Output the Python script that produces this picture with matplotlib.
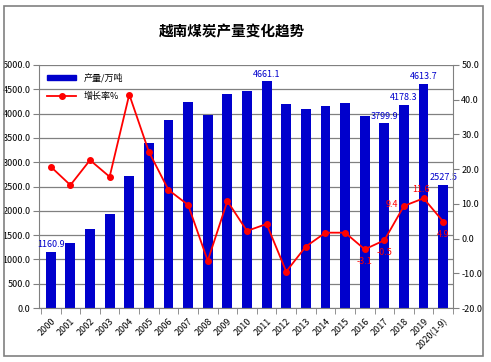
import numpy as np
import matplotlib
matplotlib.use("Agg")
import matplotlib.pyplot as plt
from matplotlib.lines import Line2D
from matplotlib.patches import Rectangle

plt.rcParams['font.family'] = ['Noto Sans CJK SC', 'DejaVu Sans']

years = ["2000", "2001", "2002", "2003", "2004", "2005", "2006", "2007", "2008",
         "2009", "2010", "2011", "2012", "2013", "2014", "2015", "2016", "2017",
         "2018", "2019", "2020(1-9)"]
output = [1160.9, 1340, 1625, 1930, 2720, 3400, 3870, 4240, 3970, 4400, 4460,
          4661.1, 4200, 4095, 4156, 4218, 3955, 3799.9, 4178.3, 4613.7, 2527.5]
growth = [20.7, 15.4, 22.6, 17.8, 41.5, 25.0, 14.0, 9.7, -6.4, 10.8, 2.2, 4.2,
          -9.5, -2.3, 1.7, 1.7, -3.1, -0.5, 9.4, 11.6, 4.9]

bar_labels = {0: "1160.9", 11: "4661.1", 17: "3799.9", 18: "4178.3", 19: "4613.7", 20: "2527.5"}
line_labels = {16: ("-3.1", 0, -9, "center"), 17: ("-0.5", 0, -9, "center"),
               18: ("9.4", -4, 1, "right"), 19: ("11.6", -2, 6, "center"),
               20: ("4.9", 0, -9, "center")}

BLUE = "#0000CC"
RED = "#FF0000"

fig = plt.figure(figsize=(4.91, 3.62), dpi=100)
fig.patches.append(Rectangle((4 / 491, 1 - 356 / 362), 479 / 491, 350 / 362,
                             transform=fig.transFigure, fill=False,
                             edgecolor="#808080", linewidth=1.2))

ax = fig.add_axes([39 / 491, 1 - 308 / 362, 414 / 491, 243 / 362])
x = np.arange(len(years))
ax.bar(x, output, width=0.5, color=BLUE, zorder=2)
ax.set_xlim(-0.6, 20.4)
ax.set_ylim(0, 5000)
ax.set_yticks(np.arange(0, 5001, 500))
ax.set_yticklabels([f"{v:.1f}" for v in np.arange(0, 5001, 500)], fontsize=6.5)
ax.grid(axis="y", color="#808080", linewidth=0.9, zorder=0)
ax.set_xticks(x)
ax.set_xticklabels(years, rotation=45, ha="right", rotation_mode="anchor", fontsize=6.5)
ax.tick_params(axis="x", length=0, pad=6)
ax.set_xticks(np.arange(-0.5, 20.6, 1), minor=True)
ax.tick_params(axis="x", which="minor", length=4, color="#808080")
ax.tick_params(axis="y", length=4, color="#808080", pad=2)
for s in ["top", "right"]:
    ax.spines[s].set_visible(False)
for s in ["left", "bottom"]:
    ax.spines[s].set_color("#808080")

for i, txt in bar_labels.items():
    ax.annotate(txt, (x[i], output[i]), xytext=(0, 2), textcoords="offset points",
                ha="center", va="bottom", fontsize=6.5, color=BLUE, zorder=5)

ax2 = ax.twinx()
ax2.plot(x, growth, color=RED, linewidth=1.3, marker="o", markersize=4, zorder=3)
ax2.set_ylim(-20, 50)
ax2.set_yticks(np.arange(-20, 51, 10))
ax2.set_yticklabels([f"{v:.1f}" for v in np.arange(-20, 51, 10)], fontsize=6.5)
ax2.tick_params(axis="y", length=4, color="#808080", pad=2)
for s in ["top", "left", "bottom"]:
    ax2.spines[s].set_visible(False)
ax2.spines["right"].set_color("#808080")

for i, (txt, dx, dy, ha) in line_labels.items():
    ax2.annotate(txt, (x[i], growth[i]), xytext=(dx, dy), textcoords="offset points",
                 ha=ha, va="center", fontsize=6.5, color=RED, zorder=5)

handles = [Rectangle((0, 0), 1, 1, color=BLUE),
           Line2D([], [], color=RED, marker="o", markersize=4, linewidth=1.3)]
leg = ax.legend(handles, ["产量/万吨", "增长率%"], loc="upper left",
                bbox_to_anchor=(0.0, 1.0), frameon=False, fontsize=6.5,
                handlelength=3.2, handleheight=0.6, labelspacing=1.0)
leg.set_zorder(10)

fig.text(232 / 491, 1 - 31 / 362, "越南煤炭产量变化趋势", ha="center", va="center",
         fontsize=10.5, fontweight="bold")

fig.savefig("out.png", dpi=100)
